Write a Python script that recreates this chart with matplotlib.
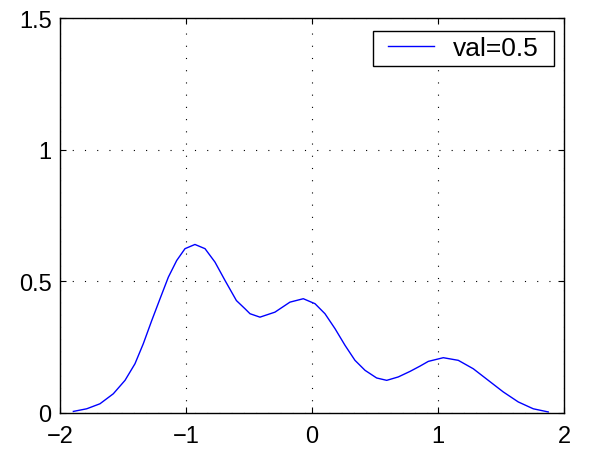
import matplotlib.pyplot as plt
from matplotlib.path import Path

# points
x_vals = [-1.894, -1.788, -1.683, -1.577, -1.484, -1.405, -1.339, -1.272,
          -1.206, -1.140, -1.074, -1.008, -0.929, -0.849, -0.770, -0.690,
          -0.600, -0.532, -0.492, -0.413, -0.294, -0.175, -0.069, 0.024,
          0.103, 0.183, 0.262, 0.341, 0.421, 0.513, 0.593, 0.685, 0.778,
          0.857, 0.923, 1.042, 1.161, 1.280, 1.399, 1.518, 1.637, 1.756,
          1.875]
y_vals = [0.006, 0.016, 0.035, 0.073, 0.124, 0.187, 0.263, 0.351,
          0.434, 0.516, 0.579, 0.624, 0.640, 0.624, 0.573, 0.503,
          0.427, 0.396, 0.377, 0.364, 0.383, 0.421, 0.434, 0.415,
          0.377, 0.320, 0.257, 0.200, 0.162, 0.133, 0.124, 0.137, 0.158,
          0.178, 0.196, 0.210, 0.200, 0.168, 0.124, 0.080, 0.042, 0.016,
          0.004]
label = "val=0.5"
x_ticks = [-2, -1, 0, 1, 2]
y_ticks = [0, 0.5, 1, 1.5]
y_tick_labels = ["0", "0.5", "1", "1.5"]


def wide_box(x0, y0, width, height, mutation_size):
    # legend frame with extra room left and right only
    dx = 0.37 * mutation_size
    verts = [(x0 - dx, y0), (x0 + width + dx, y0),
             (x0 + width + dx, y0 + height), (x0 - dx, y0 + height),
             (x0 - dx, y0)]
    return Path(verts, closed=True)


plt.rcParams["font.family"] = ["Liberation Sans", "DejaVu Sans"]

fig = plt.figure(figsize=(5.9, 4.56), dpi=100)
ax = fig.add_axes([60 / 590, 42 / 456, 504 / 590, 395 / 456])

ax.plot(x_vals, y_vals, color=(0, 0, 1), lw=1.0, label=label)

ax.set_xlim(-2, 2)
ax.set_ylim(0, 1.5)
ax.set_xticks(x_ticks)
ax.set_yticks(y_ticks)
ax.set_yticklabels(y_tick_labels)

ax.grid(True, color="black", linestyle=(0, (1, 10)), lw=0.8)
ax.tick_params(direction="in", length=4, width=0.8, top=True, right=True,
               labelsize=17, colors="black")
ax.tick_params(axis="x", pad=9)
ax.tick_params(axis="y", pad=6)
for sp in ax.spines.values():
    sp.set_linewidth(1.0)

leg = ax.legend(loc="upper right", bbox_to_anchor=(0.960, 0.967),
                fontsize=19, frameon=True, fancybox=False, framealpha=1,
                edgecolor="black", handlelength=1.75, handletextpad=0.7,
                borderpad=0.2, borderaxespad=0)
leg.get_frame().set_linewidth(1.0)
leg.get_frame().set_boxstyle(wide_box)

fig.savefig("out.png", dpi=100)
